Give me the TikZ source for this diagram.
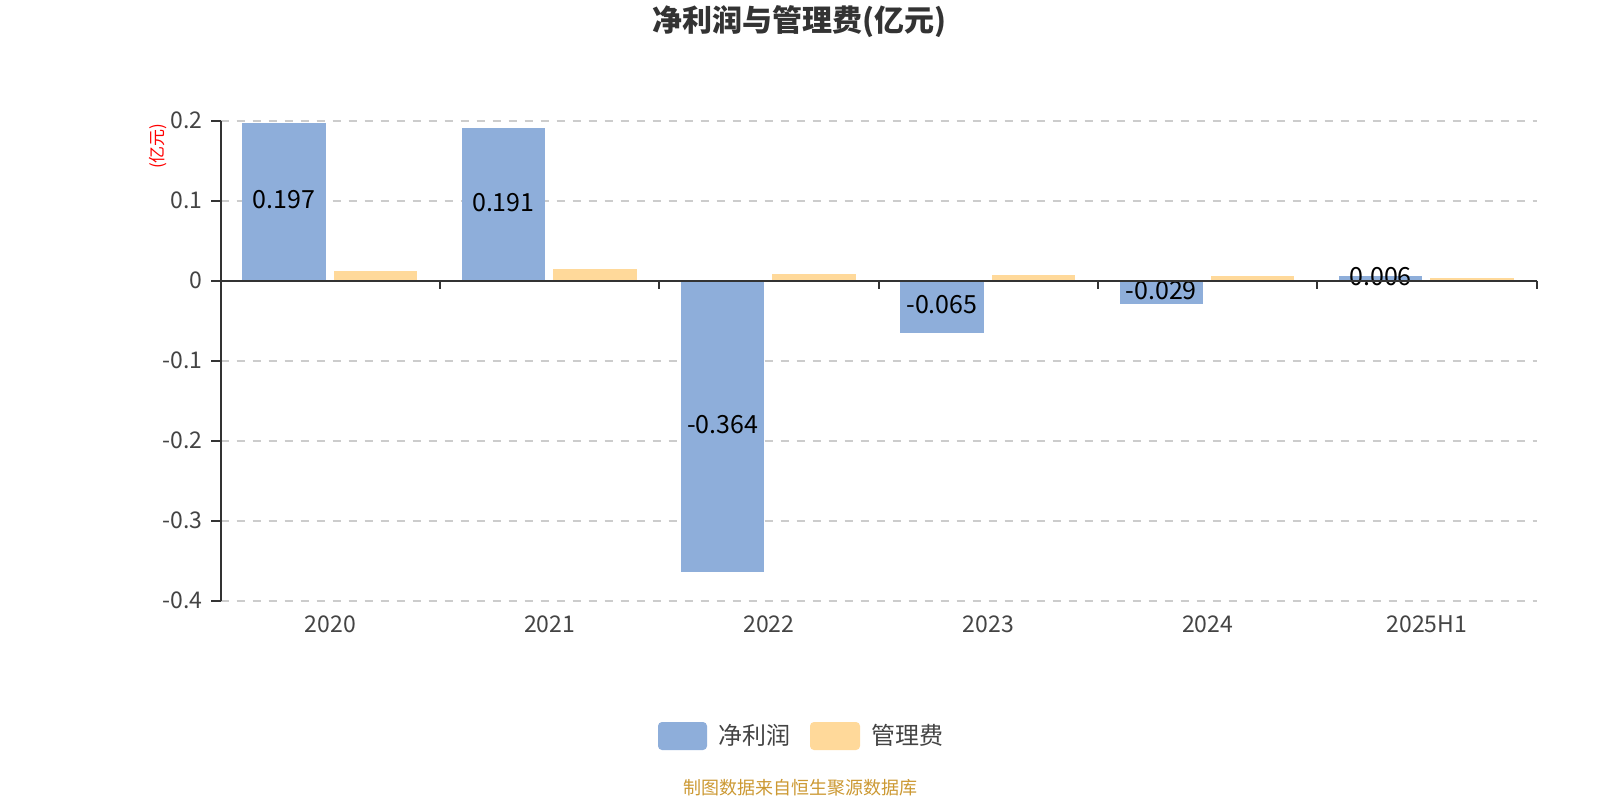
\documentclass[tikz,border=0pt]{standalone}
\usepackage{fontspec}
\setmainfont{Noto Sans CJK SC}
\definecolor{barblue}{HTML}{8EAEDA}
\definecolor{barorange}{HTML}{FFD99A}
\definecolor{axisgrey}{HTML}{333333}
\definecolor{labgrey}{HTML}{444444}
\definecolor{gridgrey}{HTML}{CCCCCC}
\definecolor{footgold}{HTML}{CC9933}
\tikzset{
  gridline/.style={draw=gridgrey, line width=1pt, dash pattern=on 4pt off 4pt},
  axisline/.style={draw=axisgrey, line width=1pt},
  ylab/.style={anchor=east, text=labgrey, font=\fontsize{11.5}{12}\selectfont, inner sep=0pt},
  xlab/.style={text=labgrey, font=\fontsize{11.5}{12}\selectfont, inner sep=0pt},
  vlab/.style={text=black, font=\fontsize{12.5}{13}\selectfont, inner sep=0pt},
  legtext/.style={anchor=west, text=labgrey, font=\fontsize{12}{13}\selectfont, inner sep=0pt},
  legbox/.style={rounded corners=2pt, line width=0pt},
}
\begin{document}
\begin{tikzpicture}[x=0.5pt,y=-0.5pt]
\useasboundingbox[fill=white] (0,0) rectangle (1600,800);
% title
\node[text=axisgrey, font=\fontsize{15}{16}\selectfont\bfseries] (title) at (799,22) {净利润与管理费(亿元)};
% grid lines
\foreach \k/\v in {1/0.2,2/0.1,3/-0.1,4/-0.2,5/-0.3,6/-0.4} {
  \coordinate (gl\k) at (220.7,{280.7-800*(\v)});
  \coordinate (gr\k) at (1537,{280.7-800*(\v)});
  \draw[gridline] (gl\k) -- (gr\k);
}
% bars
\foreach \i/\n/\m/\lab in {0/0.197/0.012/2020,1/0.191/0.015/2021,2/-0.364/0.009/2022,3/-0.065/0.007/2023,4/-0.029/0.0063/2024,5/0.006/0.0034/2025H1} {
  \pgfmathsetmacro\L{220.7+219.3*\i}
  \pgfmathsetmacro\yn{280.7-800*(\n)}
  \pgfmathsetmacro\ym{280.7-800*(\m)}
  \fill[barblue] (\L+21.7,280.7) rectangle (\L+105,\yn);
  \fill[barorange] (\L+113,280.7) rectangle (\L+196.5,\ym);
  \node[vlab] (val\i) at ({\L+63.35},{(280.7+\yn)/2-2}) {\n};
  \node[xlab] (cat\i) at ({\L+109.65},624) {\lab};
}
% y axis
\coordinate (yatop) at (220.7,121);
\coordinate (yabot) at (220.7,601);
\draw[axisline] (yatop) -- (yabot);
\foreach \k/\v in {1/0.2,2/0.1,3/0,4/-0.1,5/-0.2,6/-0.3,7/-0.4} {
  \coordinate (ytl\k) at (211,{280.7-800*(\v)});
  \coordinate (ytr\k) at (220.7,{280.7-800*(\v)});
  \draw[axisline] (ytl\k) -- (ytr\k);
  \node[ylab] (yl\k) at (203,{280.7-800*(\v)}) {\v};
}
% x axis
\coordinate (xal) at (220.7,280.7);
\coordinate (xar) at (1537,280.7);
\draw[axisline] (xal) -- (xar);
\foreach \i in {0,...,6} {
  \pgfmathsetmacro\X{220.7+219.3*\i}
  \coordinate (xt\i) at (\X,280.7);
  \coordinate (xb\i) at (\X,289);
  \draw[axisline] (xt\i) -- (xb\i);
}
% y axis name
\node[rotate=90, text=red, font=\fontsize{8.5}{9}\selectfont, inner sep=0pt] (yname) at (158,146) {(亿元)};
% legend
\fill[barblue, legbox] (658,722) rectangle (707,750);
\node[legtext] (leg1) at (718,735) {净利润};
\fill[barorange, legbox] (810,722) rectangle (860,750);
\node[legtext] (leg2) at (871,735) {管理费};
% footer
\node[text=footgold, font=\fontsize{9}{10}\selectfont, inner sep=0pt] (foot) at (800,788) {制图数据来自恒生聚源数据库};
\end{tikzpicture}
\end{document}
